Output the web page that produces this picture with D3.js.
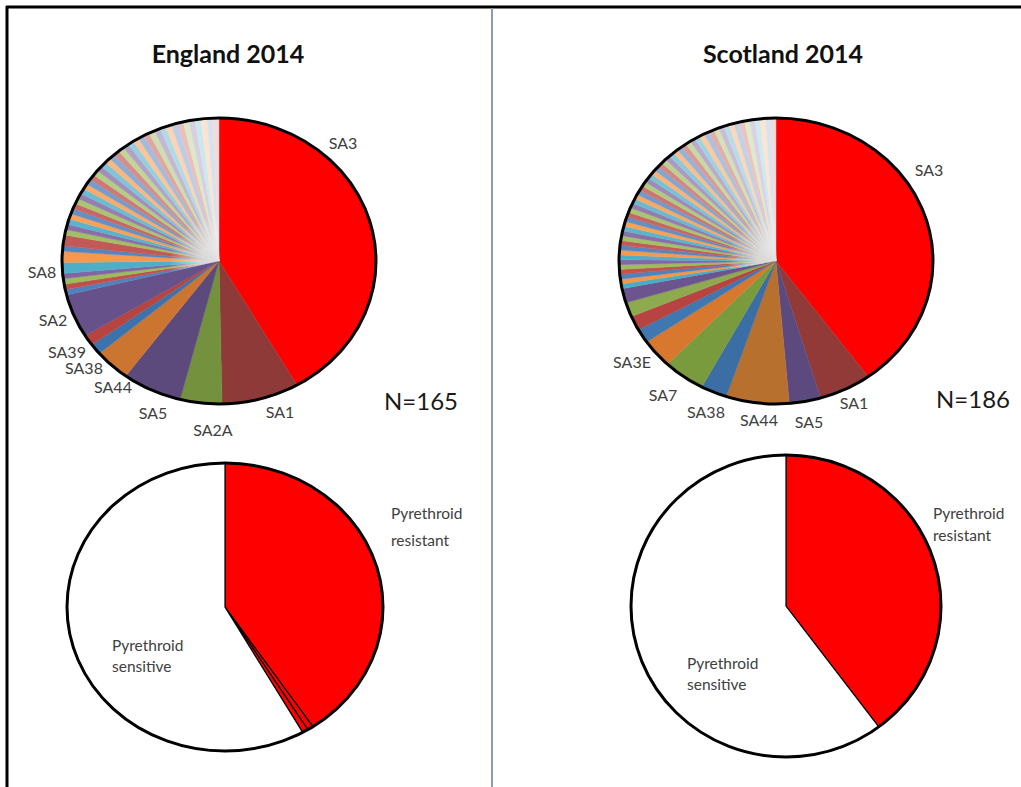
<!DOCTYPE html>
<html>
<head>
<meta charset="utf-8">
<script src="https://cdn.jsdelivr.net/npm/d3@7/dist/d3.min.js"></script>
<style>
  html, body { margin: 0; padding: 0; background: #fff; }
  svg { display: block; }
  text { font-family: Lato, "Open Sans", sans-serif; }
</style>
</head>
<body>
<svg id="chart" width="1021" height="787"></svg>
<script>
// ---- Data ---------------------------------------------------------------
// Haplotype counts, in clockwise order from 12 o'clock.
const englandHaplotypes = ["SA3", "SA1", "SA2A", "SA5", "SA44", "SA38", "SA39", "SA2",
  "", "", "", "", "SA8", "", "", "",
  "", "", "", "", "", "", "", "", "", "", "", "", "", "", "", "", "", "", "", "", "", "",
  "", "", "", "", "", "", "", "", "", "", "", "", "", ""];
const englandCounts = [68, 13, 7, 10, 6, 2, 2, 8,
  1, 1, 1, 1, 2, 2, 1, 2,
  1, 1, 1, 1, 1, 1, 1, 1, 1, 1, 1, 1, 1, 1, 1, 1, 1, 1, 1, 1, 1, 1,
  1, 1, 1, 1, 1, 1, 1, 1, 1, 1, 1, 1, 1, 1];

const scotlandHaplotypes = ["SA3", "SA1", "SA5", "SA44", "SA38", "SA7", "SA3E",
  "", "", "", "",
  "", "", "", "", "", "", "", "", "", "", "", "", "", "", "", "", "", "", "", "", "", "", "", "", "", "", "", "",
  "", "", "", "", "", "", "", "", "", "", "", "", "", "", "", "", "", "", "", "", "", "", "", ""];
const scotlandCounts = [74, 10, 6, 12, 5, 8, 6,
  3, 3, 3, 3,
  1, 1, 1, 1, 1, 1, 1, 1, 1, 1, 1, 1, 1, 1, 1, 1, 1, 1, 1, 1, 1, 1, 1, 1, 1, 1, 1, 1,
  1, 1, 1, 1, 1, 1, 1, 1, 1, 1, 1, 1, 1, 1, 1, 1, 1, 1, 1, 1, 1, 1, 1, 1];

// Resistance phenotype split
const englandPhenotypes = ["Pyrethroid resistant", "", "", "Pyrethroid sensitive"];
const englandPhenoCounts = [67, 1, 1, 96];
const scotlandPhenotypes = ["Pyrethroid resistant", "Pyrethroid sensitive"];
const scotlandPhenoCounts = [74, 112];

const panelTitles = ["England 2014", "Scotland 2014"];
const sampleSizes = ["N=165", "N=186"];

// ---- Styling ------------------------------------------------------------
const englandMajorColors = ["#ff0000", "#8e3a38", "#74913d", "#5d4a7c", "#cc7530", "#3c73ad", "#b7443f", "#67518a"];
const scotlandMajorColors = ["#ff0000", "#913a38", "#5c4a7e", "#b8702f", "#3a6ea5", "#7a9a3e", "#d8782e",
  "#3f77b0", "#b84442", "#8daa4e", "#6c548e"];
const englandTailHues = ["#4f81bd", "#c0504d", "#9bbb59", "#8064a2", "#4bacc6", "#f79646"];
const scotlandTailHues = ["#4bacc6", "#f79646", "#4f81bd", "#c0504d", "#9bbb59", "#8064a2"];

function sliceColors(counts, major, hues) {
  const nTail = counts.length - major.length;
  return counts.map((_, i) => {
    if (i < major.length) return major[i];
    const k = i - major.length;
    const t = Math.pow(k / (nTail - 1), 1.5) * 0.8;
    return d3.interpolateRgb(hues[k % hues.length], "#ffffff")(t);
  });
}

const svg = d3.select("#chart");
const defs = svg.append("defs");

// Frame and divider
svg.append("line").attr("x1", 6).attr("x2", 1021).attr("y1", 7).attr("y2", 7)
  .attr("stroke", "#000").attr("stroke-width", 3);
svg.append("line").attr("x1", 7).attr("x2", 7).attr("y1", 6).attr("y2", 787)
  .attr("stroke", "#000").attr("stroke-width", 3);
svg.append("line").attr("x1", 492).attr("x2", 492).attr("y1", 8).attr("y2", 787)
  .attr("stroke", "#8a9bb3").attr("stroke-width", 2);

const pie = d3.pie().sort(null).value(d => d.v);

// Elliptical pie: arcs are built on a circle of radius rx then squashed vertically.
function drawPie(opts) {
  const { cx, cy, rx, ry, names, counts, colors, sliceStroke, haze, id } = opts;
  const data = counts.map((v, i) => ({ v, name: names[i], color: colors[i] }));
  const arcs = pie(data);
  const arc = d3.arc().innerRadius(0).outerRadius(rx);
  const g = svg.append("g").attr("transform", `translate(${cx},${cy}) scale(1,${ry / rx})`);
  g.selectAll("path.slice").data(arcs).join("path")
    .attr("class", "slice")
    .attr("d", arc)
    .attr("fill", d => d.data.color)
    .attr("stroke", sliceStroke ? "#000" : d => d.data.color)
    .attr("stroke-width", sliceStroke ? 1.2 : 0.4)
    .attr("vector-effect", "non-scaling-stroke");

  if (haze != null) {
    // soft blend where the many narrow slices converge at the centre
    const gid = "haze-" + id;
    const grad = defs.append("radialGradient").attr("id", gid)
      .attr("gradientUnits", "userSpaceOnUse").attr("cx", 0).attr("cy", 0).attr("r", rx);
    grad.append("stop").attr("offset", 0).attr("stop-color", "#e4e4e4").attr("stop-opacity", 0.95);
    grad.append("stop").attr("offset", 0.12).attr("stop-color", "#ececec").attr("stop-opacity", 0.75);
    grad.append("stop").attr("offset", 0.32).attr("stop-color", "#f2f2f2").attr("stop-opacity", 0);
    const start = arcs[haze].startAngle;
    g.append("path")
      .attr("d", d3.arc().innerRadius(0).outerRadius(rx)({ startAngle: start, endAngle: 2 * Math.PI }))
      .attr("fill", `url(#${gid})`);
  }

  g.append("ellipse").attr("rx", rx).attr("ry", rx)
    .attr("fill", "none").attr("stroke", "#000").attr("stroke-width", 3)
    .attr("vector-effect", "non-scaling-stroke");
  return arcs;
}

function drawLabels(cx, cy, items, size) {
  svg.append("g").selectAll("text").data(items).join("text")
    .attr("x", d => cx + d.dx)
    .attr("y", d => cy + d.dy)
    .attr("text-anchor", d => d.anchor || "middle")
    .attr("dy", "0.36em")
    .attr("font-size", size)
    .attr("fill", "#404040")
    .text(d => d.text);
}

// ---- Titles ---------------------------------------------------------------
const titleX = [228, 783];
panelTitles.forEach((t, i) => {
  svg.append("text").attr("x", titleX[i]).attr("y", 63)
    .attr("text-anchor", "middle").attr("font-weight", 700)
    .attr("font-size", 25).attr("fill", "#111").text(t);
});

// ---- Haplotype pies -------------------------------------------------------
const engTop = { cx: 219, cy: 261, rx: 157, ry: 143 };
drawPie({ ...engTop, id: "eng", names: englandHaplotypes, counts: englandCounts,
  colors: sliceColors(englandCounts, englandMajorColors, englandTailHues), sliceStroke: false, haze: 8 });

const scoTop = { cx: 776, cy: 261, rx: 157, ry: 143 };
drawPie({ ...scoTop, id: "sco", names: scotlandHaplotypes, counts: scotlandCounts,
  colors: sliceColors(scotlandCounts, scotlandMajorColors, scotlandTailHues), sliceStroke: false, haze: 11 });

// Haplotype label placement (offsets from each pie centre)
const englandLabelOffsets = {
  SA3: [124, -118], SA1: [61, 151], SA2A: [-6, 169], SA5: [-66, 152], SA44: [-106, 126],
  SA38: [-135, 107], SA39: [-152, 91], SA2: [-166, 59], SA8: [-177, 11]
};
const scotlandLabelOffsets = {
  SA3: [153, -91], SA1: [78, 142], SA5: [33, 161], SA44: [-17, 159], SA38: [-70, 151],
  SA7: [-113, 134], SA3E: [-144, 101]
};
drawLabels(engTop.cx, engTop.cy,
  englandHaplotypes.filter(n => n).map(n => ({ text: n, dx: englandLabelOffsets[n][0], dy: englandLabelOffsets[n][1] })), 16);
drawLabels(scoTop.cx, scoTop.cy,
  scotlandHaplotypes.filter(n => n).map(n => ({ text: n, dx: scotlandLabelOffsets[n][0], dy: scotlandLabelOffsets[n][1] })), 16);

// Sample sizes
svg.append("text").attr("x", 384).attr("y", 410).attr("font-size", 24).attr("fill", "#1a1a1a").text(sampleSizes[0]);
svg.append("text").attr("x", 936).attr("y", 408).attr("font-size", 24).attr("fill", "#1a1a1a").text(sampleSizes[1]);

// ---- Phenotype pies -------------------------------------------------------
const phenoFill = n => n === "Pyrethroid sensitive" ? "#ffffff" : "#ff0000";
const engBot = { cx: 225, cy: 607, rx: 158, ry: 144 };
drawPie({ ...engBot, id: "engP", names: englandPhenotypes, counts: englandPhenoCounts,
  colors: englandPhenotypes.map(phenoFill), sliceStroke: true, haze: null });
const scoBot = { cx: 786, cy: 606, rx: 155, ry: 151 };
drawPie({ ...scoBot, id: "scoP", names: scotlandPhenotypes, counts: scotlandPhenoCounts,
  colors: scotlandPhenotypes.map(phenoFill), sliceStroke: true, haze: null });

function twoLine(x, y1, y2, words) {
  words.forEach((w, i) => {
    svg.append("text").attr("x", x).attr("y", i === 0 ? y1 : y2).attr("dy", "0.36em")
      .attr("font-size", 15.5).attr("fill", "#404040").text(w);
  });
}
twoLine(391, 513, 540, englandPhenotypes[0].split(" "));
twoLine(112, 645, 666, englandPhenotypes[3].split(" "));
twoLine(933, 513, 535, scotlandPhenotypes[0].split(" "));
twoLine(687, 663, 684, scotlandPhenotypes[1].split(" "));
</script>
</body>
</html>
